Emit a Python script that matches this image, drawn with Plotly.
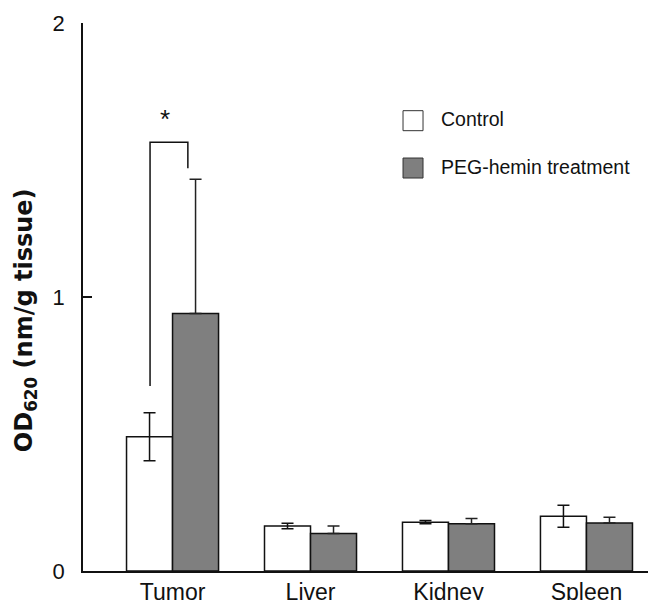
import plotly.graph_objects as go

# ---- data ----
categories = ["Tumor", "Liver", "Kidney", "Spleen"]
control_vals = [0.49, 0.164, 0.178, 0.200]
control_err = [0.088, 0.010, 0.006, 0.040]
treat_vals = [0.94, 0.137, 0.172, 0.175]
treat_err_plus = [0.49, 0.027, 0.020, 0.021]
series_names = ["Control", "PEG-hemin treatment"]
y_ticks = [0, 1, 2]

# significance bracket (Tumor control vs treatment)
bracket_y_top = 1.565
bracket_y_left = 0.675
bracket_y_right = 1.47

FONT = "Liberation Sans, Arial, Helvetica, sans-serif"
GRAY = "#7f7f7f"
INK = "#111"

fig = go.Figure()
fig.add_trace(go.Bar(
    x=categories, y=control_vals, name=series_names[0],
    marker=dict(color="white", line=dict(color=INK, width=1.5)),
    error_y=dict(type="data", array=control_err, symmetric=True,
                 color=INK, thickness=1.5, width=6),
    showlegend=False,
))
fig.add_trace(go.Bar(
    x=categories, y=treat_vals, name=series_names[1],
    marker=dict(color=GRAY, line=dict(color=INK, width=1.5)),
    error_y=dict(type="data", array=treat_err_plus, arrayminus=[0] * len(treat_vals),
                 symmetric=False, color="#222", thickness=1.5, width=6),
    showlegend=False,
))

# bracket
fig.add_shape(type="path",
              path=f"M -0.163 {bracket_y_left} L -0.163 {bracket_y_top} L 0.111 {bracket_y_top} L 0.111 {bracket_y_right}",
              xref="x", yref="y", line=dict(color=INK, width=1.5))
fig.add_annotation(x=-0.054, y=1.651, xref="x", yref="y", text="*",
                   showarrow=False, font=dict(family=FONT, size=26, color=INK))

# manual legend
leg_items = [(series_names[0], "white", 0.840), (series_names[1], GRAY, 0.7536)]
for name, col, ytop in leg_items:
    fig.add_shape(type="rect", xref="paper", yref="paper",
                  x0=0.5585, x1=0.5934, y0=ytop - 0.0365, y1=ytop,
                  line=dict(color="#333", width=1), fillcolor=col)
    fig.add_annotation(xref="paper", yref="paper", x=0.6213, y=ytop - 0.016,
                       xanchor="left", yanchor="middle", text=name, showarrow=False,
                       font=dict(family=FONT, size=19.5, color=INK))

# y-axis title
fig.add_annotation(xref="paper", yref="paper", x=-0.101, y=0.458,
                   xanchor="center", yanchor="middle", textangle=-90,
                   text="<b>OD<sub>620</sub> (nm/g tissue)</b>", showarrow=False,
                   font=dict(family="DejaVu Sans, sans-serif", size=24, color=INK))

fig.update_layout(
    width=648, height=592,
    margin=dict(l=75, r=0, t=15, b=29, autoexpand=False),
    paper_bgcolor="white", plot_bgcolor="white",
    barmode="group", bargap=0.333, bargroupgap=0,
    font=dict(family=FONT, color=INK),
)
fig.update_xaxes(
    range=[-0.649, 3.504], showline=True, linecolor=INK, linewidth=1.5,
    ticks="", showgrid=False, zeroline=False, automargin=False,
    tickfont=dict(family=FONT, size=23, color=INK),
)
fig.update_yaxes(
    range=[0, 2], tickvals=y_ticks, showline=True, linecolor=INK, linewidth=1.5,
    ticks="inside", ticklen=9, tickwidth=1.5, tickcolor=INK,
    showgrid=False, zeroline=False, ticklabelstandoff=12, automargin=False,
    tickfont=dict(family=FONT, size=22, color=INK),
)

fig.write_html("out.html")
